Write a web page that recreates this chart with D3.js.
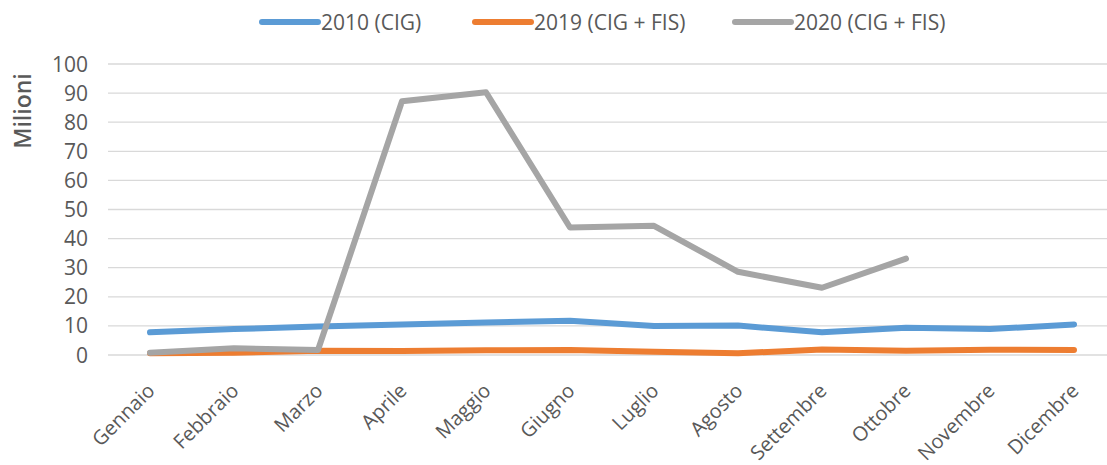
<!DOCTYPE html>
<html>
<head>
<meta charset="utf-8">
<script src="https://cdn.jsdelivr.net/npm/d3@7"></script>
<style>
	body { margin: 0; background: #fff; }
	text { font-family: "Open Sans", sans-serif; fill: #595959; }
</style>
</head>
<body>
<div id="chart"></div>
<script>
var months = ["Gennaio", "Febbraio", "Marzo", "Aprile", "Maggio", "Giugno",
	"Luglio", "Agosto", "Settembre", "Ottobre", "Novembre", "Dicembre"];
var seriesNames = ["2010 (CIG)", "2019 (CIG + FIS)", "2020 (CIG + FIS)"];
var v2010 = [7.8, 8.9, 9.8, 10.5, 11.2, 11.8, 10.0, 10.1, 7.8, 9.4, 8.9, 10.5];
var v2019 = [0.6, 0.8, 1.5, 1.4, 1.6, 1.7, 1.1, 0.6, 1.9, 1.5, 1.8, 1.7];
var v2020 = [0.8, 2.3, 1.7, 87.2, 90.3, 43.8, 44.4, 28.6, 23.1, 33.1];
var yTicks = [0, 10, 20, 30, 40, 50, 60, 70, 80, 90, 100];
var colors = ["#5B9BD5", "#ED7D31", "#A5A5A5"];

var width = 1107, height = 465;
var svg = d3.select("#chart").append("svg")
	.attr("width", width)
	.attr("height", height);

var x = d3.scalePoint()
	.domain(months)
	.range([150, 1074]);
var y = d3.scaleLinear()
	.domain([0, 100])
	.range([355, 64]);

// gridlines
svg.append("g")
	.selectAll("line")
	.data(yTicks)
	.enter().append("line")
	.attr("x1", 108).attr("x2", 1110)
	.attr("y1", d => y(d)).attr("y2", d => y(d))
	.style("stroke", "#d9d9d9")
	.style("stroke-width", "1.3px");

// y axis labels
svg.append("g")
	.selectAll("text")
	.data(yTicks)
	.enter().append("text")
	.attr("x", 88)
	.attr("y", d => y(d))
	.attr("dy", "0.36em")
	.attr("text-anchor", "end")
	.style("font-size", "21px")
	.text(d => d);

svg.append("text")
	.attr("transform", "translate(31,111) rotate(-90)")
	.attr("text-anchor", "middle")
	.style("font-size", "23px")
	.style("font-weight", "600")
	.text("Milioni");

// x labels
svg.append("g")
	.selectAll("text")
	.data(months)
	.enter().append("text")
	.attr("transform", d => "translate(" + (x(d) + 6) + ",392) rotate(-45)")
	.attr("text-anchor", "end")
	.style("font-size", "20px")
	.text(d => d);

// lines
var line = d3.line()
	.x((d, i) => x(months[i]))
	.y(d => y(d));

[v2010, v2019, v2020].forEach((vals, i) => {
	svg.append("path")
		.attr("d", line(vals))
		.style("fill", "none")
		.style("stroke", colors[i])
		.style("stroke-width", "6px")
		.style("stroke-linecap", "round")
		.style("stroke-linejoin", "round");
});

// legend
var legendX = [262, 475, 735];
var legend = svg.append("g");
seriesNames.forEach((name, i) => {
	legend.append("line")
		.attr("x1", legendX[i]).attr("x2", legendX[i] + 56)
		.attr("y1", 22).attr("y2", 22)
		.style("stroke", colors[i])
		.style("stroke-width", "6px")
		.style("stroke-linecap", "round");
	legend.append("text")
		.attr("x", legendX[i] + 59)
		.attr("y", 22)
		.attr("dy", "0.36em")
		.style("font-size", "21px")
		.text(name);
});
</script>
</body>
</html>
